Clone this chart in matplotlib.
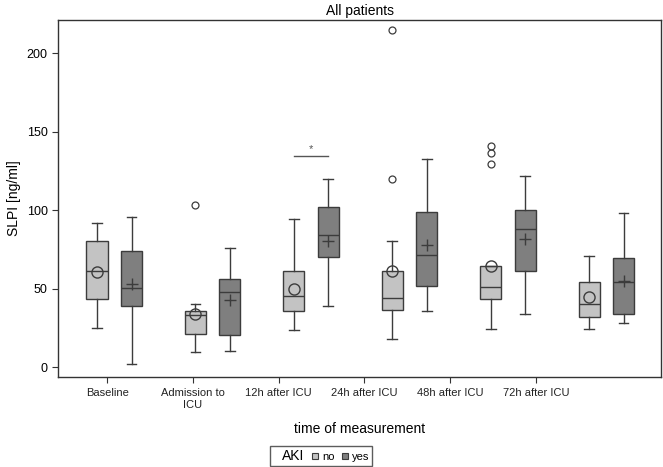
import matplotlib.pyplot as plt
from matplotlib.lines import Line2D

plt.rcParams['font.family'] = ['Liberation Sans', 'DejaVu Sans']

# categories
times = ['Baseline', 'Admission to\nICU', '12h after ICU', '24h after ICU',
         '48h after ICU', '72h after ICU']

# AKI = no : whisker low, q1, median, q3, whisker high, mean
no_wlo = [25.4, 9.8, 23.7, 18.2, 24.6, 24.6]
no_q1 = [43.4, 21.2, 36.0, 36.6, 43.6, 32.2]
no_med = [61.4, 33.5, 45.5, 44.3, 51.0, 40.6]
no_q3 = [80.6, 35.8, 61.2, 61.4, 64.8, 54.6]
no_whi = [92.1, 40.4, 94.2, 80.6, 64.8, 71.1]
no_mean = [60.8, 33.8, 50.0, 61.6, 64.6, 44.7]
no_fliers = [[], [103.1], [], [215.0, 119.6], [141.2, 136.5, 129.3], []]

# AKI = yes
yes_wlo = [1.9, 10.4, 39.0, 35.8, 34.3, 28.4]
yes_q1 = [39.0, 20.6, 70.1, 51.9, 61.2, 33.7]
yes_med = [50.6, 47.9, 84.5, 71.6, 87.9, 54.4]
yes_q3 = [73.9, 56.5, 102.0, 98.7, 100.1, 69.5]
yes_whi = [95.9, 76.0, 120.0, 132.5, 121.9, 98.2]
yes_mean = [53.3, 42.8, 80.7, 77.7, 81.5, 55.0]
yes_fliers = [[], [], [], [], [], []]

# significance marker (group index, height)
sig_group = 2
sig_y = 134.8


def make_stats(wlo, q1, med, q3, whi, mean, fliers):
    stats = []
    for i in range(len(wlo)):
        stats.append({'whislo': wlo[i], 'q1': q1[i], 'med': med[i], 'q3': q3[i],
                      'whishi': whi[i], 'mean': mean[i], 'fliers': fliers[i]})
    return stats


edge = '#3c3c3c'
c_no = '#c3c3c3'
c_yes = '#7f7f7f'
off = 0.175
bw = 0.215

fig = plt.figure(figsize=(6.63, 4.67), dpi=100)
ax = fig.add_axes([0.0875, 0.193, 0.9095, 0.764])

pos = list(range(len(times)))
for stats, shift, col, mmark, mfill in [
        (make_stats(no_wlo, no_q1, no_med, no_q3, no_whi, no_mean, no_fliers), -off, c_no, 'o', 'none'),
        (make_stats(yes_wlo, yes_q1, yes_med, yes_q3, yes_whi, yes_mean, yes_fliers), off, c_yes, '+', edge)]:
    ax.bxp(stats, positions=[p + shift for p in pos], widths=bw, patch_artist=True,
           showmeans=True,
           boxprops=dict(facecolor=col, edgecolor=edge, linewidth=1.0),
           medianprops=dict(color=edge, linewidth=1.0),
           whiskerprops=dict(color=edge, linewidth=1.0),
           capprops=dict(color=edge, linewidth=1.0),
           capwidths=0.1,
           meanprops=dict(marker=mmark, markerfacecolor=mfill, markeredgecolor=edge,
                          markersize=8, markeredgewidth=1.0),
           flierprops=dict(marker='o', markerfacecolor='none', markeredgecolor=edge,
                           markersize=5, markeredgewidth=0.9),
           manage_ticks=False)

# significance bar
ax.plot([sig_group - off, sig_group + off], [sig_y, sig_y], color='#555555', lw=1.0)
ax.text(sig_group, sig_y + 1.2, '*', ha='center', va='bottom', fontsize=8, color='#555555')

ax.set_xlim(-0.572, 5.556)
ax.set_ylim(-6, 221)
ax.set_xticks([-0.071 + 0.871 * i for i in range(len(times))])
ax.set_xticklabels(times, fontsize=8, color='#222222')
ax.set_yticks([0, 50, 100, 150, 200])
ax.tick_params(axis='both', labelsize=9, color='#333333', length=4, direction='out')
ax.tick_params(axis='x', labelsize=8, pad=4)
for s in ax.spines.values():
    s.set_color('#333333')
    s.set_linewidth(1.0)

ax.set_title('All patients', fontsize=10, pad=4)
ax.set_ylabel('SLPI [ng/ml]', fontsize=10)
ax.set_xlabel('time of measurement', fontsize=10, labelpad=9)

handles = [Line2D([], [], linestyle='none'),
           Line2D([], [], linestyle='none', marker='s', markersize=5,
                  markerfacecolor=c_no, markeredgecolor=edge, markeredgewidth=0.8),
           Line2D([], [], linestyle='none', marker='s', markersize=5,
                  markerfacecolor=c_yes, markeredgecolor=edge, markeredgewidth=0.8)]
leg = fig.legend(handles, ['AKI', 'no', 'yes'], ncol=3, loc='lower center',
                 bbox_to_anchor=(0.484, 0.003), borderaxespad=0, fontsize=8,
                 frameon=True, fancybox=False,
                 handlelength=0.5, handletextpad=0.35, columnspacing=0.7,
                 borderpad=0.25)
leg.get_frame().set_edgecolor('#333333')
leg.get_frame().set_linewidth(1.0)
leg.get_texts()[0].set_fontsize(10)

fig.savefig('out.png', dpi=100)
